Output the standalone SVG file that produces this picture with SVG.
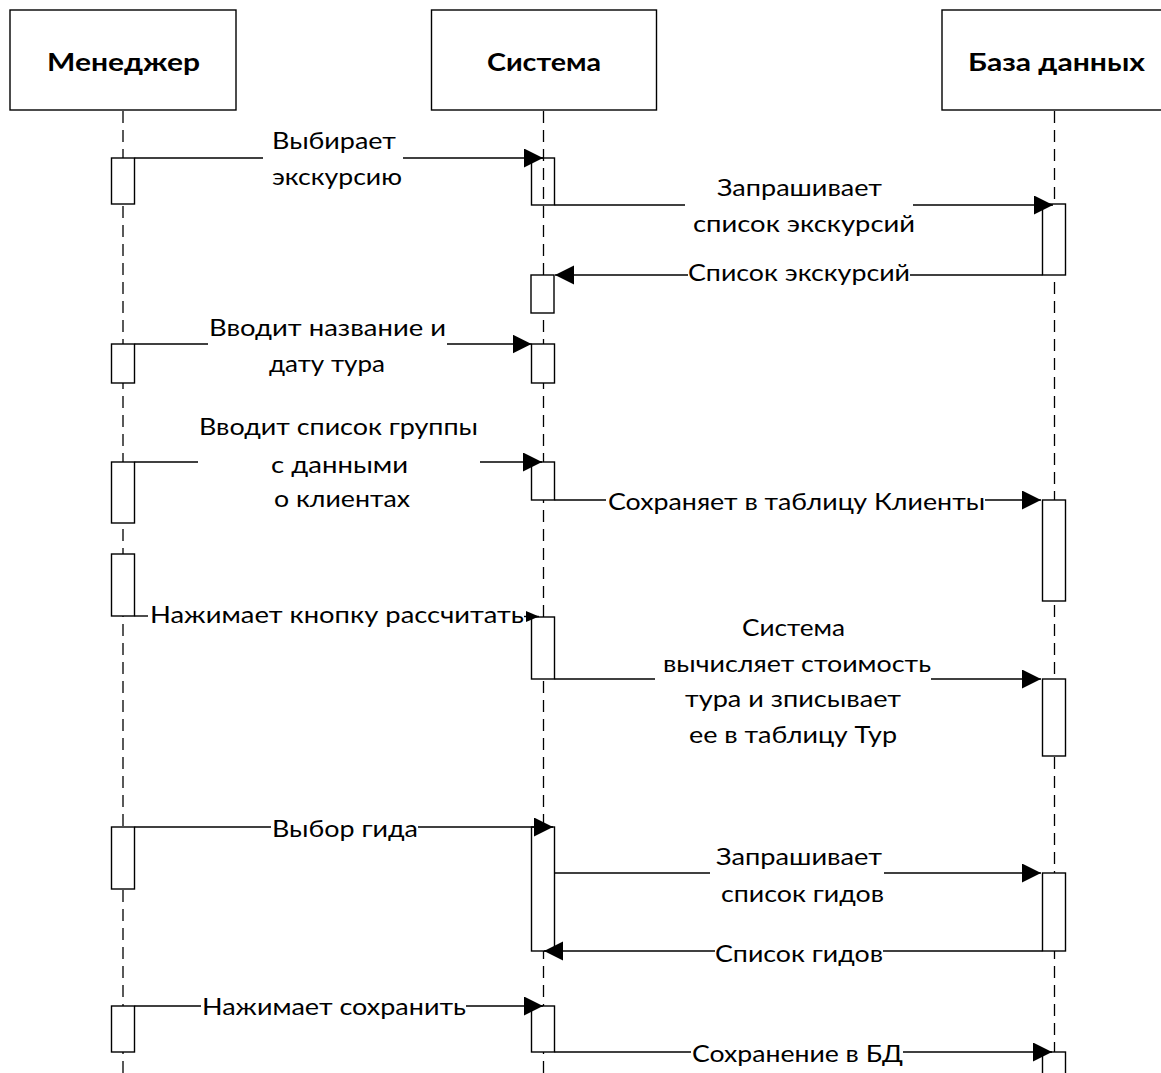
<svg xmlns="http://www.w3.org/2000/svg" width="1161" height="1073" viewBox="0 0 1161 1073">
<defs>
<style>
.hdr{fill:#fff;stroke:#000;stroke-width:1.4}
.ht{font-family:Lato,"Liberation Sans",sans-serif;font-weight:bold;font-size:25px;fill:#000}
.life{stroke:#000;stroke-width:1.3;stroke-dasharray:12 7;fill:none}
.act{fill:#fff;stroke:#000;stroke-width:1.4}
.msg{stroke:#000;stroke-width:1.4;fill:none}
.lbl{font-family:Lato,"Liberation Sans",sans-serif;font-size:24px;fill:#000}
</style>
<marker id="ah" markerUnits="userSpaceOnUse" markerWidth="20" markerHeight="20" refX="19" refY="9.5" orient="auto">
<path d="M0,0 L19,9.5 L0,19 z" fill="#000"/>
</marker>
<marker id="ahs" markerUnits="userSpaceOnUse" markerWidth="14" markerHeight="12" refX="13" refY="5.5" orient="auto">
<path d="M0,0 L13,5.5 L0,11 z" fill="#000"/>
</marker>
</defs>
<rect width="1161" height="1073" fill="#fff"/>

<g id="lifelines">
<line class="life" x1="123" y1="111" x2="123" y2="1073"/>
<line class="life" x1="543.5" y1="111" x2="543.5" y2="1073"/>
<line class="life" x1="1054.5" y1="111" x2="1054.5" y2="1073"/>
</g>

<g id="manager">
<rect class="hdr" x="10" y="10" width="226" height="100"/>
<text class="ht" x="47" y="71" textLength="153" lengthAdjust="spacingAndGlyphs">Менеджер</text>
</g>
<g id="system">
<rect class="hdr" x="431.5" y="10" width="225" height="100"/>
<text class="ht" x="487" y="71" textLength="114" lengthAdjust="spacingAndGlyphs">Система</text>
</g>
<g id="database">
<rect class="hdr" x="942" y="10" width="226" height="100"/>
<text class="ht" x="968" y="71" textLength="177" lengthAdjust="spacingAndGlyphs">База данных</text>
</g>

<g id="activations-manager">
<rect class="act" x="111.5" y="158" width="23" height="46"/>
<rect class="act" x="111.5" y="344" width="23" height="39"/>
<rect class="act" x="111.5" y="462" width="23" height="61"/>
<rect class="act" x="111.5" y="554" width="23" height="62"/>
<rect class="act" x="111.5" y="827" width="23" height="62"/>
<rect class="act" x="111.5" y="1006" width="23" height="46"/>
</g>
<g id="activations-system">
<rect class="act" x="531.5" y="158" width="23" height="47" fill="none" style="fill:none"/>
<rect class="act" x="531" y="275" width="23" height="38"/>
<rect class="act" x="531.5" y="344" width="23" height="39"/>
<rect class="act" x="531.5" y="462" width="23" height="38"/>
<rect class="act" x="531.5" y="617" width="23" height="62"/>
<rect class="act" x="531.5" y="827" width="23" height="124"/>
<rect class="act" x="531.5" y="1006" width="23" height="46"/>
</g>
<g id="activations-db">
<rect class="act" x="1042.5" y="204" width="23" height="71"/>
<rect class="act" x="1042.5" y="500" width="23" height="101"/>
<rect class="act" x="1042.5" y="679" width="23" height="77"/>
<rect class="act" x="1042.5" y="873" width="23" height="78"/>
<rect class="act" x="1042.5" y="1052" width="23" height="30"/>
</g>

<g id="connectors">
<!-- 1 -->
<line class="msg" x1="134.5" y1="158" x2="263" y2="158"/>
<line class="msg" x1="403" y1="158" x2="543" y2="158" marker-end="url(#ah)"/>
<!-- 2 -->
<line class="msg" x1="554.5" y1="205" x2="685" y2="205"/>
<line class="msg" x1="913" y1="205" x2="1053" y2="205" marker-end="url(#ah)"/>
<!-- 3 -->
<line class="msg" x1="1042.5" y1="275" x2="910" y2="275"/>
<line class="msg" x1="688" y1="275" x2="555" y2="275" marker-end="url(#ah)"/>
<!-- 4 -->
<line class="msg" x1="134.5" y1="344" x2="208" y2="344"/>
<line class="msg" x1="447" y1="344" x2="531.5" y2="344" marker-end="url(#ah)"/>
<!-- 5 -->
<line class="msg" x1="134.5" y1="462" x2="198" y2="462"/>
<line class="msg" x1="480" y1="462" x2="542" y2="462" marker-end="url(#ah)"/>
<!-- 6 -->
<line class="msg" x1="554.5" y1="500" x2="606" y2="500"/>
<line class="msg" x1="985" y1="500" x2="1041" y2="500" marker-end="url(#ah)"/>
<!-- 7 -->
<line class="msg" x1="134.5" y1="616" x2="148" y2="616"/>
<line class="msg" x1="524" y1="616.5" x2="539" y2="616.5" marker-end="url(#ahs)"/>
<!-- 8 -->
<line class="msg" x1="554.5" y1="679" x2="655" y2="679"/>
<line class="msg" x1="931" y1="679" x2="1041" y2="679" marker-end="url(#ah)"/>
<!-- 9 -->
<line class="msg" x1="134.5" y1="827" x2="271" y2="827"/>
<line class="msg" x1="418" y1="827" x2="553" y2="827" marker-end="url(#ah)"/>
<!-- 10 -->
<line class="msg" x1="554.5" y1="873" x2="710" y2="873"/>
<line class="msg" x1="884" y1="873" x2="1041" y2="873" marker-end="url(#ah)"/>
<!-- 11 -->
<line class="msg" x1="1042.5" y1="951" x2="883" y2="951"/>
<line class="msg" x1="715" y1="951" x2="544" y2="951" marker-end="url(#ah)"/>
<!-- 12 -->
<line class="msg" x1="134.5" y1="1006" x2="201" y2="1006"/>
<line class="msg" x1="466" y1="1006" x2="543" y2="1006" marker-end="url(#ah)"/>
<!-- 13 -->
<line class="msg" x1="554.5" y1="1052" x2="691" y2="1052"/>
<line class="msg" x1="903" y1="1052" x2="1052" y2="1052" marker-end="url(#ah)"/>
</g>

<g id="labels">
<text class="lbl" x="272" y="149" textLength="124" lengthAdjust="spacingAndGlyphs">Выбирает</text>
<text class="lbl" x="272" y="185" textLength="130" lengthAdjust="spacingAndGlyphs">экскурсию</text>
<text class="lbl" x="717" y="196" textLength="165" lengthAdjust="spacingAndGlyphs">Запрашивает</text>
<text class="lbl" x="693" y="232" textLength="222" lengthAdjust="spacingAndGlyphs">список экскурсий</text>
<text class="lbl" x="688" y="281" textLength="222" lengthAdjust="spacingAndGlyphs">Список экскурсий</text>
<text class="lbl" x="209" y="336" textLength="237" lengthAdjust="spacingAndGlyphs">Вводит название и</text>
<text class="lbl" x="269" y="372" textLength="116" lengthAdjust="spacingAndGlyphs">дату тура</text>
<text class="lbl" x="199" y="435" textLength="279" lengthAdjust="spacingAndGlyphs">Вводит список группы</text>
<text class="lbl" x="271" y="473" textLength="137" lengthAdjust="spacingAndGlyphs">с данными</text>
<text class="lbl" x="274" y="507" textLength="136" lengthAdjust="spacingAndGlyphs">о клиентах</text>
<text class="lbl" x="608" y="510" textLength="377" lengthAdjust="spacingAndGlyphs">Сохраняет в таблицу Клиенты</text>
<text class="lbl" x="150" y="623" textLength="374" lengthAdjust="spacingAndGlyphs">Нажимает кнопку рассчитать</text>
<text class="lbl" x="742" y="636" textLength="103" lengthAdjust="spacingAndGlyphs">Система</text>
<text class="lbl" x="663" y="672" textLength="268" lengthAdjust="spacingAndGlyphs">вычисляет стоимость</text>
<text class="lbl" x="685" y="707" textLength="216" lengthAdjust="spacingAndGlyphs">тура и зписывает</text>
<text class="lbl" x="689" y="743" textLength="208" lengthAdjust="spacingAndGlyphs">ее в таблицу Тур</text>
<text class="lbl" x="272" y="837" textLength="146" lengthAdjust="spacingAndGlyphs">Выбор гида</text>
<text class="lbl" x="716" y="865" textLength="166" lengthAdjust="spacingAndGlyphs">Запрашивает</text>
<text class="lbl" x="721" y="902" textLength="163" lengthAdjust="spacingAndGlyphs">список гидов</text>
<text class="lbl" x="715" y="962" textLength="168" lengthAdjust="spacingAndGlyphs">Список гидов</text>
<text class="lbl" x="202" y="1015" textLength="264" lengthAdjust="spacingAndGlyphs">Нажимает сохранить</text>
<text class="lbl" x="692" y="1062" textLength="211" lengthAdjust="spacingAndGlyphs">Сохранение в БД</text>
</g>
</svg>
